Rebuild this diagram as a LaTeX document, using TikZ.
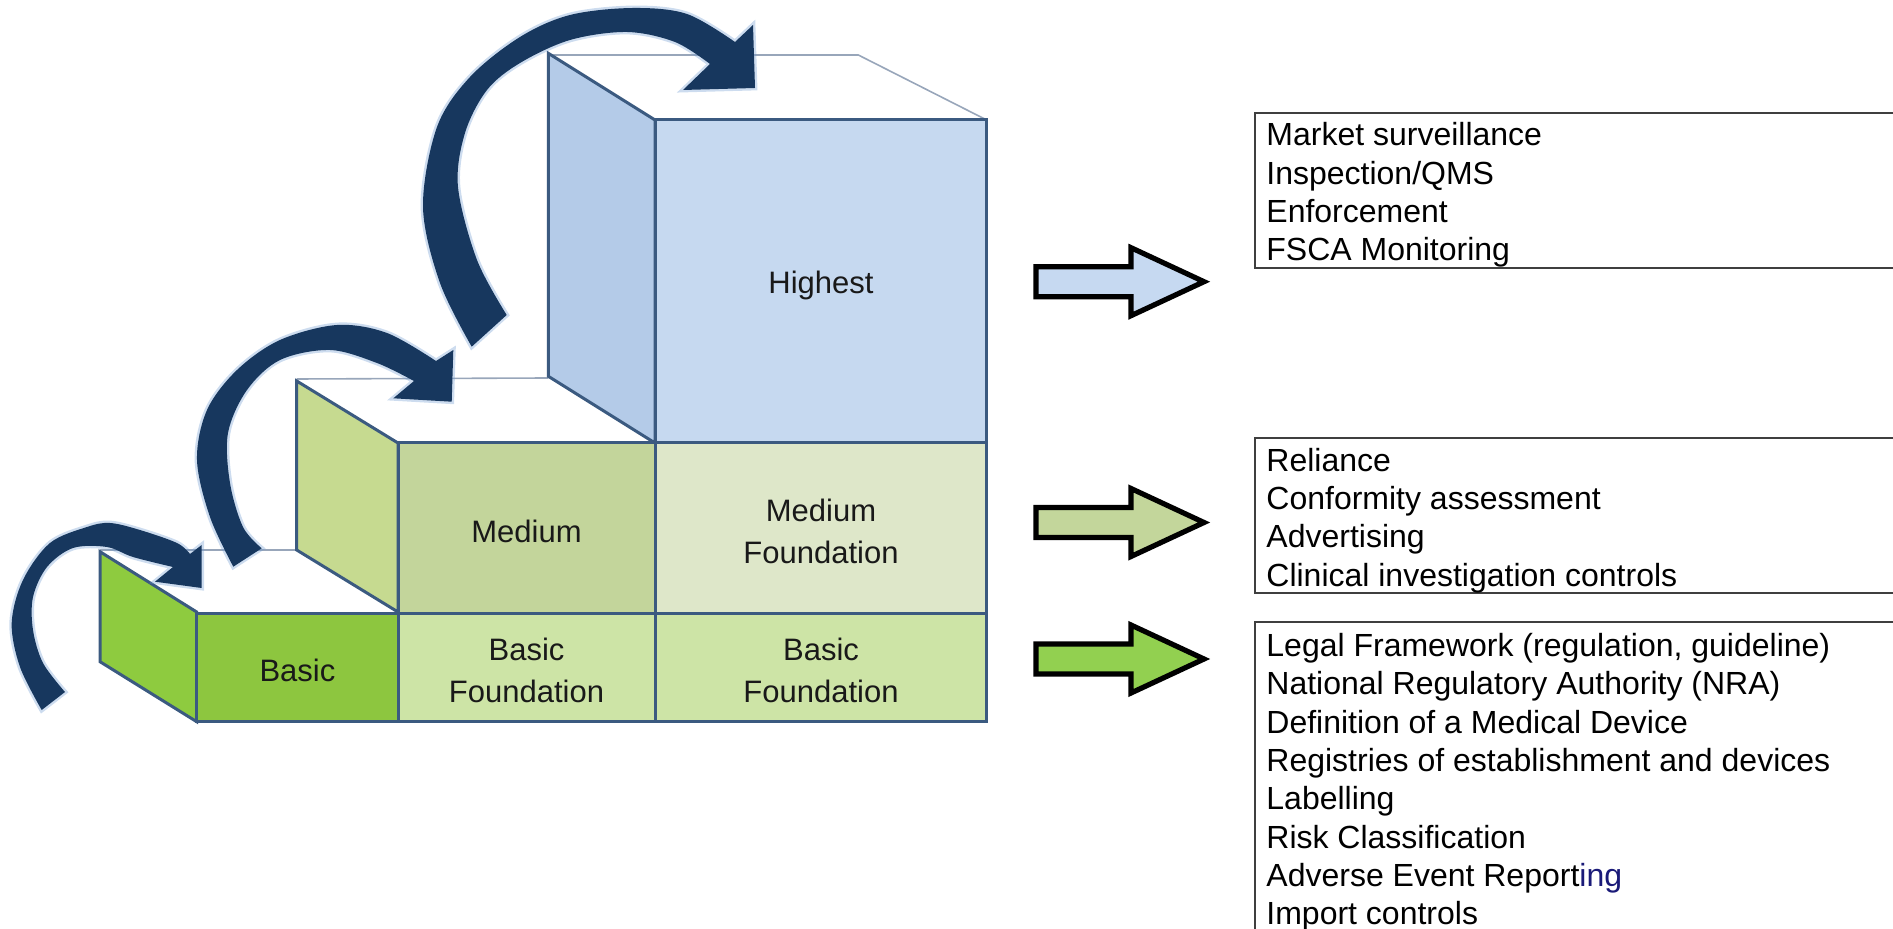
\documentclass[tikz,border=0pt]{standalone}
\usepackage{fontspec}
\setmainfont{Liberation Sans}
\usetikzlibrary{calc}

\definecolor{hiFront}{HTML}{C6D9F0}
\definecolor{hiSide}{HTML}{B4CBE8}
\definecolor{medFront}{HTML}{C3D59B}
\definecolor{medSide}{HTML}{C6DA90}
\definecolor{medFound}{HTML}{DEE7C9}
\definecolor{basFront}{HTML}{8DC63F}
\definecolor{basSide}{HTML}{8ECB3F}
\definecolor{basFound}{HTML}{CDE4A6}
\definecolor{edgecol}{HTML}{3B5A80}
\definecolor{topline}{HTML}{98A6BA}
\definecolor{swoosh}{HTML}{17375E}
\definecolor{swooshglow}{HTML}{6F9AD0}
\definecolor{arrBlue}{HTML}{C6D9F1}
\definecolor{arrOlive}{HTML}{C3D69B}
\definecolor{arrGreen}{HTML}{92D050}
\definecolor{boxline}{HTML}{3F3F3F}
\definecolor{ingblue}{HTML}{1A1A78}

\begin{document}
\begin{tikzpicture}[x=0.5pt,y=-0.5pt,
  face/.style={draw=edgecol, line width=1.5pt, line join=miter},
  backline/.style={draw=topline, line width=0.8pt},
  swooshstyle/.style={fill=swoosh, preaction={draw=swooshglow, line width=2.4pt, opacity=0.35}},
  blockarrow/.style={draw=black, line width=2.6pt, line join=miter, miter limit=10},
  listbox/.style={draw=boxline, line width=1pt},
  cubelabel/.style={font=\fontsize{15.5}{21}\selectfont, align=center, inner sep=0pt, text=black!90},
  listitem/.style={font=\fontsize{16}{19}\selectfont, anchor=base west, inner sep=0pt},
]
\useasboundingbox (0,0) rectangle (1893,929);

% back edges of the open top faces
\draw[backline] (548.3,55) -- (858.3,55) -- (986.7,120);
\draw[backline] (296.7,379) -- (548.3,378);
\draw[backline] (100,550) -- (296.7,550);

% side faces of the three steps
\filldraw[face, fill=hiSide] (548.3,53.3) -- (655,120) -- (655,443) -- (548.3,376.3) -- cycle;
\filldraw[face, fill=medSide] (296.7,381) -- (398,443) -- (398,612) -- (296.7,550) -- cycle;
\filldraw[face, fill=basSide] (100,551.7) -- (196.7,612) -- (196.7,721.7) -- (100,661.7) -- cycle;

% front faces
\filldraw[face, fill=hiFront]   (655,120)   rectangle (986.7,443);
\filldraw[face, fill=medFront]  (398,443)   rectangle (655,613);
\filldraw[face, fill=medFound]  (655,443)   rectangle (986.7,613);
\filldraw[face, fill=basFront]  (196.7,613) rectangle (398,721.7);
\filldraw[face, fill=basFound]  (398,613)   rectangle (655,721.7);
\filldraw[face, fill=basFound]  (655,613)   rectangle (986.7,721.7);

% labels on the front faces
\node[cubelabel] (lHighest)   at (821,285.5) {Highest};
\node[cubelabel] (lMedium)    at (526.5,531) {Medium};
\node[cubelabel] (lMedFound)  at (821,531)   {Medium\\Foundation};
\node[cubelabel] (lBasic)     at (297.4,670.5) {Basic};
\node[cubelabel] (lBasFoundA) at (526.5,670.5) {Basic\\Foundation};
\node[cubelabel] (lBasFoundB) at (821,670.5)   {Basic\\Foundation};

% curved step-up arrows
\fill[swooshstyle]
  plot[smooth, tension=0.55] coordinates {(41.7,710) (20,667) (11.7,623) (23,580) (50,543) (87,527) (110,523) (140,530) (177,543) (190,554)}
  -- (201.7,545) -- (201.7,588) -- (155,581.7)
  -- plot[smooth, tension=0.55] coordinates {(173,567) (133,557) (107,547) (73,548) (47,567) (33,597) (33,630) (43,663) (65,692)}
  -- cycle;
\fill[swooshstyle]
  plot[smooth, tension=0.55] coordinates {(233.3,566.7) (210,517) (197,460) (207,410) (237,370) (280,340) (337,325) (387,333) (436,361)}
  -- (453.3,350) -- (451.7,401.7) -- (393.3,398.3)
  -- plot[smooth, tension=0.55] coordinates {(414,381) (377,363) (330,350) (280,360) (247,390) (228,433) (230,483) (243,527) (261.7,548.3)}
  -- cycle;
\fill[swooshstyle]
  plot[smooth, tension=0.55] coordinates {(471.7,346.7) (440,283) (423,207) (437,127) (470,77) (520,37) (570,15) (633,8) (687,14) (735,42)}
  -- (753,25) -- (755,88) -- (683,90)
  -- plot[smooth, tension=0.55] coordinates {(710,64) (675,42) (627,32) (570,40) (520,63) (487,90) (465,133) (458,187) (477,260) (506.7,315)}
  -- cycle;

% block arrows pointing to the lists
\foreach \c/\col in {281.7/arrBlue, 522.5/arrOlive, 659/arrGreen}
  \filldraw[blockarrow, fill=\col] (1036,{\c-15}) -- (1131,{\c-15}) -- (1131,{\c-34})
    -- (1204,\c) -- (1131,{\c+34}) -- (1131,{\c+15}) -- (1036,{\c+15}) -- cycle;

% list frames, open to the right
\draw[listbox] (1893,113.3) -- (1255,113.3) -- (1255,268.5) -- (1893,268.5);
\draw[listbox] (1893,438) -- (1255,438) -- (1255,593.3) -- (1893,593.3);
\draw[listbox] (1893,621.7) -- (1255,621.7) -- (1255,929);

% list entries
\foreach \t [count=\i] in {Market surveillance, Inspection/QMS, Enforcement, FSCA Monitoring}
  \node[listitem] (hi\i) at (1266,{146+38.1*(\i-1)}) {\t};
\foreach \t [count=\i] in {Reliance, Conformity assessment, Advertising, Clinical investigation controls}
  \node[listitem] (me\i) at (1266,{471.3+38.3*(\i-1)}) {\t};
\foreach \t [count=\i] in {{Legal Framework (regulation, guideline)}, {National Regulatory Authority (NRA)},
    {Definition of a Medical Device}, {Registries of establishment and devices}, {Labelling},
    {Risk Classification}, {Adverse Event Report\textcolor{ingblue}{ing}}, {Import controls}}
  \node[listitem] (ba\i) at (1266,{656.5+38.3*(\i-1)}) {\t};
\end{tikzpicture}
\end{document}
